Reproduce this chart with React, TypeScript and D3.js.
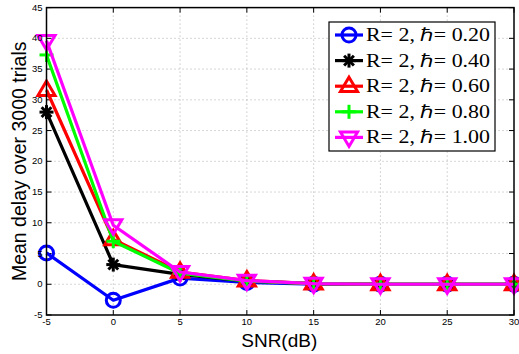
import React from "react";
import * as d3 from "d3";

const snr = [-5, 0, 5, 10, 15, 20, 25, 30];
const seriesNames = ["R= 2, ℏ= 0.20", "R= 2, ℏ= 0.40", "R= 2, ℏ= 0.60", "R= 2, ℏ= 0.80", "R= 2, ℏ= 1.00"];
const hbar020 = [5.1, -2.6, 1.0, 0.3, 0.0, 0.0, 0.0, 0.0];
const hbar040 = [28.0, 3.2, 1.6, 0.5, 0.1, 0.0, 0.0, 0.0];
const hbar060 = [31.6, 7.3, 2.0, 0.6, 0.1, 0.0, 0.0, 0.0];
const hbar080 = [37.3, 7.0, 1.8, 0.5, 0.1, 0.0, 0.0, 0.0];
const hbar100 = [39.6, 9.6, 2.0, 0.6, 0.1, 0.0, 0.0, 0.0];
const xTicks = [-5, 0, 5, 10, 15, 20, 25, 30];
const yTicks = [-5, 0, 5, 10, 15, 20, 25, 30, 35, 40, 45];

const colors = ["#0000ff", "#000000", "#ff0000", "#00ff00", "#ff00ff"];
const markers = ["circle", "star", "triUp", "plus", "triDown"];
const allSeries = [hbar020, hbar040, hbar060, hbar080, hbar100];

function Marker({ kind, x, y, color }: { kind: string; x: number; y: number; color: string }) {
  const sw = 3;
  if (kind === "circle") return <circle cx={x} cy={y} r={7} fill="none" stroke={color} strokeWidth={sw} />;
  if (kind === "triUp") {
    const r = 9;
    const pts = [[x, y - r], [x + r * 0.95, y + r * 0.6], [x - r * 0.95, y + r * 0.6]].map((p) => p.join(",")).join(" ");
    return <polygon points={pts} fill="none" stroke={color} strokeWidth={sw} />;
  }
  if (kind === "triDown") {
    const r = 9;
    const pts = [[x, y + r], [x + r * 0.95, y - r * 0.6], [x - r * 0.95, y - r * 0.6]].map((p) => p.join(",")).join(" ");
    return <polygon points={pts} fill="none" stroke={color} strokeWidth={sw} />;
  }
  if (kind === "plus") {
    const r = 7;
    return (
      <g stroke={color} strokeWidth={sw}>
        <line x1={x - r} y1={y} x2={x + r} y2={y} />
        <line x1={x} y1={y - r} x2={x} y2={y + r} />
      </g>
    );
  }
  const r = 7;
  return (
    <g stroke={color} strokeWidth={sw}>
      <line x1={x - r} y1={y} x2={x + r} y2={y} />
      <line x1={x} y1={y - r} x2={x} y2={y + r} />
      <line x1={x - r * 0.7} y1={y - r * 0.7} x2={x + r * 0.7} y2={y + r * 0.7} />
      <line x1={x - r * 0.7} y1={y + r * 0.7} x2={x + r * 0.7} y2={y - r * 0.7} />
    </g>
  );
}

export default function App() {
  const W = 519, H = 354;
  const left = 46.5, right = 514, top = 7.6, bottom = 315;
  const x = d3.scaleLinear().domain([-5, 30]).range([left, right]);
  const y = d3.scaleLinear().domain([-5, 45]).range([bottom, top]);
  const line = d3.line<number>().x((_, i) => x(snr[i])).y((d) => y(d));

  const legX = 329, legY = 22, legW = 166, legH = 129;
  const rowY = (i: number) => legY + 13 + i * 25.6;

  return (
    <div style={{ position: "absolute", left: 0, top: 0 }}>
      <svg width={W} height={H} style={{ display: "block", background: "#fff" }}>
        <rect x={0} y={0} width={W} height={H} fill="#fff" />
        <g stroke="#999" strokeWidth={0.8} strokeDasharray="1,3">
          {xTicks.slice(1, -1).map((t) => (
            <line key={"gx" + t} x1={x(t)} x2={x(t)} y1={top} y2={bottom} />
          ))}
          {yTicks.slice(1, -1).map((t) => (
            <line key={"gy" + t} x1={left} x2={right} y1={y(t)} y2={y(t)} />
          ))}
        </g>
        <g stroke="#000" strokeWidth={1}>
          {xTicks.map((t) => (
            <g key={"tx" + t}>
              <line x1={x(t)} x2={x(t)} y1={bottom} y2={bottom - 5} />
              <line x1={x(t)} x2={x(t)} y1={top} y2={top + 5} />
            </g>
          ))}
          {yTicks.map((t) => (
            <g key={"ty" + t}>
              <line x1={left} x2={left + 5} y1={y(t)} y2={y(t)} />
              <line x1={right} x2={right - 5} y1={y(t)} y2={y(t)} />
            </g>
          ))}
        </g>
        {allSeries.map((s, si) => (
          <g key={"s" + si}>
            <path d={line(s) || ""} fill="none" stroke={colors[si]} strokeWidth={3.2} strokeLinejoin="round" />
            {s.map((v, i) => (
              <Marker key={i} kind={markers[si]} x={x(snr[i])} y={y(v)} color={colors[si]} />
            ))}
          </g>
        ))}
        <rect x={left} y={top} width={right - left} height={bottom - top} fill="none" stroke="#000" strokeWidth={1.5} />
        <g fontFamily="Liberation Sans, Arial, sans-serif" fontSize={9.5} fill="#000">
          {xTicks.map((t) => (
            <text key={"lx" + t} x={x(t)} y={bottom + 10} textAnchor="middle">{t}</text>
          ))}
          {yTicks.map((t) => (
            <text key={"ly" + t} x={left - 4} y={y(t) + 3} textAnchor="end">{t}</text>
          ))}
        </g>
        <text x={(left + right) / 2 - 1} y={347} textAnchor="middle" fontFamily="Liberation Sans, Arial, sans-serif" fontSize={19}>SNR(dB)</text>
        <text transform={`translate(26,${(top + bottom) / 2}) rotate(-90)`} textAnchor="middle" fontFamily="Liberation Sans, Arial, sans-serif" fontSize={19.5}>Mean delay over 3000 trials</text>
        <rect x={legX} y={legY} width={legW} height={legH} fill="#fff" stroke="#000" strokeWidth={1.2} />
        {seriesNames.map((n, i) => (
          <g key={"lg" + i}>
            <line x1={335} x2={363} y1={rowY(i)} y2={rowY(i)} stroke={colors[i]} strokeWidth={3.2} />
            <Marker kind={markers[i]} x={349} y={rowY(i)} color={colors[i]} />
            <text x={366} y={rowY(i) + 6} fontFamily="Liberation Serif, serif" fontSize={18} textLength={124} lengthAdjust="spacingAndGlyphs">{n}</text>
          </g>
        ))}
      </svg>
    </div>
  );
}
